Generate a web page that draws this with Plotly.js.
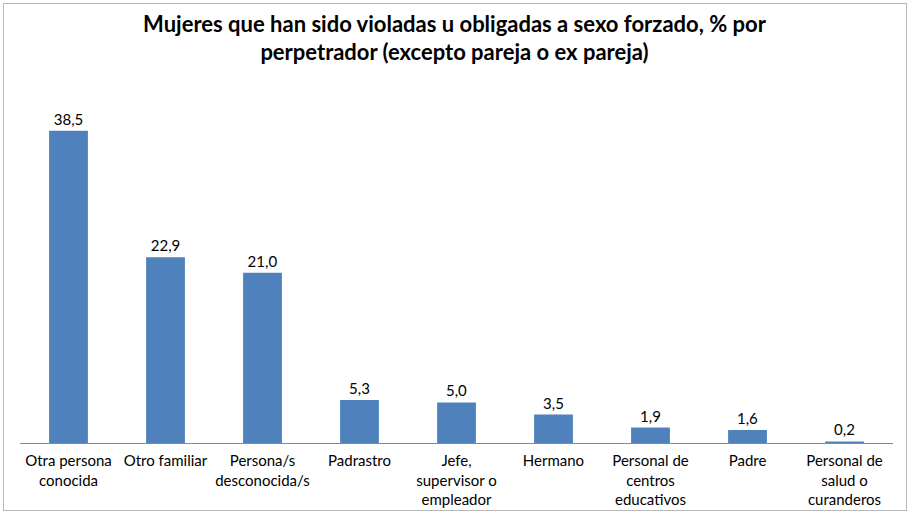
<!DOCTYPE html>
<html>
<head>
<meta charset="utf-8">
<script src="https://cdn.plot.ly/plotly-3.0.1.min.js"></script>
<style>
  body { margin: 0; background: #fff; }
  #wrap { position: relative; width: 909px; height: 513px; }
  #chart { width: 909px; height: 513px; }
  #frame { position: absolute; left: 3px; top: 3px; width: 902px; height: 506px;
           border: 1px solid #b8b8b8; pointer-events: none; }
</style>
</head>
<body>
<div id="wrap">
  <div id="chart"></div>
  <div id="frame"></div>
</div>
<script>
const categories = [
  'Otra persona<br>conocida',
  'Otro familiar',
  'Persona/s<br>desconocida/s',
  'Padrastro',
  'Jefe,<br>supervisor o<br>empleador',
  'Hermano',
  'Personal de<br>centros<br>educativos',
  'Padre',
  'Personal de<br>salud o<br>curanderos'
];
const percentages = [38.5, 22.9, 21.0, 5.3, 5.0, 3.5, 1.9, 1.6, 0.2];

const data = [{
  x: categories,
  y: percentages,
  type: 'bar',
  marker: {color: '#4F81BD'},
  texttemplate: '%{y:.1f}',
  textposition: 'outside',
  cliponaxis: false,
  textfont: {family: 'Lato, sans-serif', size: 15, color: '#000'},
  hoverinfo: 'none'
}];

const layout = {
  width: 909,
  height: 513,
  separators: ',.',
  font: {family: 'Lato, sans-serif', color: '#000'},
  title: {
    text: '<b>Mujeres que han sido violadas u obligadas a sexo forzado, % por<br>perpetrador (excepto pareja o ex pareja)</b>',
    font: {family: 'Lato, sans-serif', size: 22, color: '#000'},
    x: 0.5,
    xanchor: 'center',
    y: 0.938,
    yanchor: 'top'
  },
  margin: {l: 20, r: 16, t: 78, b: 70},
  bargap: 0.6,
  showlegend: false,
  xaxis: {
    showline: true,
    linecolor: '#888',
    linewidth: 1,
    ticks: 'outside',
    ticklen: 4,
    tickcolor: 'rgba(0,0,0,0)',
    tickfont: {family: 'Lato, sans-serif', size: 15, color: '#000'},
    automargin: false
  },
  yaxis: {
    range: [0, 45],
    visible: false,
    showgrid: false,
    zeroline: false
  },
  plot_bgcolor: '#fff',
  paper_bgcolor: '#fff'
};

Plotly.newPlot('chart', data, layout, {displayModeBar: false, staticPlot: true});
</script>
</body>
</html>
